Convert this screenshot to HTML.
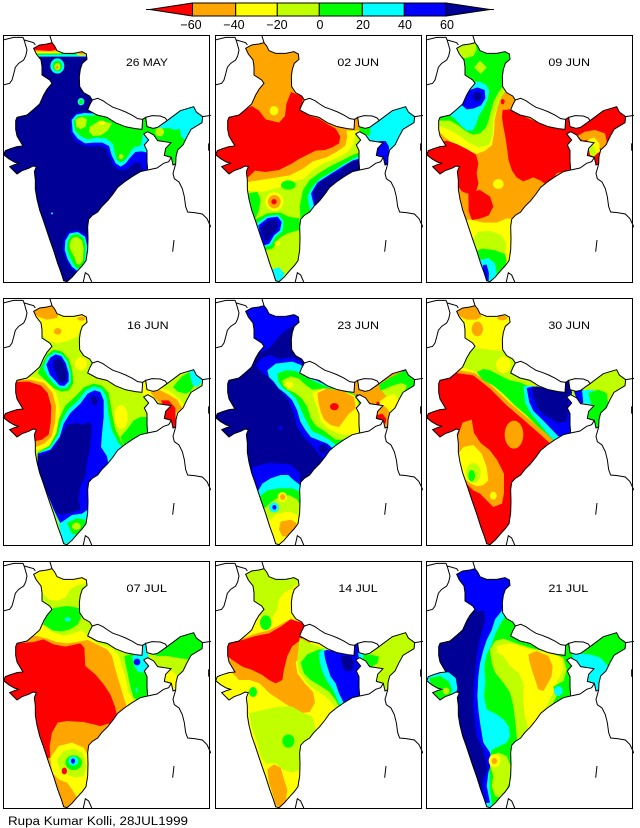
<!DOCTYPE html>
<html><head><meta charset="utf-8">
<style>
html,body{margin:0;padding:0;background:#fff;}
body{width:640px;height:828px;position:relative;overflow:hidden;font-family:"Liberation Sans",sans-serif;}
.fr{position:absolute;width:207px;height:248px;border:1px solid #000;box-sizing:border-box;}
.p{position:absolute;width:208px;height:248px;overflow:hidden;}
.r{fill:#ff0000}.o{fill:#ffa500}.y{fill:#ffff00}.yg{fill:#c0ff00}.g{fill:#00ff00}.c{fill:#00ffff}.b{fill:#0000ff}.n{fill:#000096}
text{font-family:"Liberation Sans",sans-serif;fill:#000;}
</style></head><body>
<svg width="0" height="0" style="position:absolute">
<defs>
<clipPath id="ic" clipPathUnits="userSpaceOnUse"><path d="M100,55 L118,45 L140,42 L155,38 L163,48 L170,62 L190,70 L220,70 L245,65 L258,72 L260,88 L246,100 L240,118 L237,140 L238,170 L250,188 L268,198 L276,210 L268,225 L262,240 L290,255 L320,262 L345,278 L375,290 L405,296 L425,298 L427,268 L436,262 L440,290 L458,295 L472,292 L500,272 L540,242 L580,230 L588,246 L607,260 L605,278 L572,298 L560,320 L548,345 L532,360 L527,380 L526,402 L518,405 L513,382 L492,376 L496,355 L512,338 L472,332 L460,315 L442,305 L430,312 L445,330 L432,345 L440,362 L440,395 L442,420 L420,425 L395,440 L372,456 L352,472 L338,492 L322,512 L304,530 L292,546 L276,556 L265,568 L262,590 L263,625 L262,660 L257,692 L245,708 L232,722 L215,742 L200,755 L190,752 L183,730 L172,700 L160,662 L148,628 L138,598 L128,568 L118,540 L110,508 L105,478 L105,450 L102,425 L108,410 L98,408 L85,415 L65,422 L50,432 L38,420 L28,410 L42,404 L55,400 L42,396 L25,386 L10,374 L15,362 L30,356 L50,350 L68,348 L60,335 L50,318 L46,298 L46,272 L50,262 L80,255 L100,238 L118,222 L130,195 L140,178 L155,160 L148,150 L125,135 L125,110 L122,90 L108,72 Z"/></clipPath>
<path id="ind" d="M100,55 L118,45 L140,42 L155,38 L163,48 L170,62 L190,70 L220,70 L245,65 L258,72 L260,88 L246,100 L240,118 L237,140 L238,170 L250,188 L268,198 L276,210 L268,225 L262,240 L290,255 L320,262 L345,278 L375,290 L405,296 L425,298 L427,268 L436,262 L440,290 L458,295 L472,292 L500,272 L540,242 L580,230 L588,246 L607,260 L605,278 L572,298 L560,320 L548,345 L532,360 L527,380 L526,402 L518,405 L513,382 L492,376 L496,355 L512,338 L472,332 L460,315 L442,305 L430,312 L445,330 L432,345 L440,362 L440,395 L442,420 L420,425 L395,440 L372,456 L352,472 L338,492 L322,512 L304,530 L292,546 L276,556 L265,568 L262,590 L263,625 L262,660 L257,692 L245,708 L232,722 L215,742 L200,755 L190,752 L183,730 L172,700 L160,662 L148,628 L138,598 L128,568 L118,540 L110,508 L105,478 L105,450 L102,425 L108,410 L98,408 L85,415 L65,422 L50,432 L38,420 L28,410 L42,404 L55,400 L42,396 L25,386 L10,374 L15,362 L30,356 L50,350 L68,348 L60,335 L50,318 L46,298 L46,272 L50,262 L80,255 L100,238 L118,222 L130,195 L140,178 L155,160 L148,150 L125,135 L125,110 L122,90 L108,72 Z" fill="none" stroke="#000" stroke-width="3"/>
<g id="nb" fill="none" stroke="#000" stroke-width="3">
<path d="M8,30 L40,22 L68,22 L72,32 L80,60 L76,78 L70,90 L55,100 L45,112 L40,132 L35,150 L28,160 L8,165"/>
<path d="M72,30 L100,38 L105,45"/>
<path d="M148,15 L152,28 L155,38"/>
<path d="M276,210 L292,205 L308,212 L322,222 L338,232 L356,238 L376,246 L396,256 L412,266 L427,268"/>
<path d="M436,262 L455,257 L480,258 L495,264 L500,272"/>
<path d="M607,260 L632,256"/>
<path d="M526,402 L518,430 L522,446 L536,456 L546,476 L552,500 L556,530 L562,546 L582,548 L606,552 L620,566 L632,592"/>
<path d="M442,420 L470,414 L490,400 L505,395 L513,382"/>
<path d="M625,340 L625,362"/>
<path d="M248,760 L255,728 L265,735 L276,760"/>
<path d="M521,630 L517,665"/>
</g>
</defs>
</svg>

<!-- colorbar -->
<svg style="position:absolute;left:0;top:0" width="640" height="34">
<line x1="146" y1="9.5" x2="150" y2="9.5" stroke="#000"/>
<polygon points="150,9.5 192.5,3 192.5,16" fill="#ff0000" stroke="#000"/>
<rect x="192.5" y="3" width="43.2" height="13" class="o" stroke="#000"/>
<rect x="235.7" y="3" width="41.6" height="13" class="y" stroke="#000"/>
<rect x="277.3" y="3" width="42" height="13" class="yg" stroke="#000"/>
<rect x="319.3" y="3" width="43" height="13" class="g" stroke="#000"/>
<rect x="362.3" y="3" width="42" height="13" class="c" stroke="#000"/>
<rect x="404.3" y="3" width="41.7" height="13" class="b" stroke="#000"/>
<polygon points="446,3 446,16 490,9.5" fill="#000096" stroke="#000"/>
<line x1="490" y1="9.5" x2="494" y2="9.5" stroke="#000"/>
<g font-size="12.5" text-anchor="middle">
<text x="191" y="29">−60</text><text x="234" y="29">−40</text><text x="277" y="29">−20</text><text x="320" y="29">0</text><text x="363" y="29">20</text><text x="405" y="29">40</text><text x="447" y="29">60</text>
</g>
</svg>

<!-- Panel 1 -->
<div class="fr" style="left:3px;top:35px"></div>
<svg class="p" style="left:3px;top:35px" viewBox="8 15 624 744">
<g clip-path="url(#ic)">
<rect class="n" x="0" y="0" width="640" height="780"/>
<path class="c" d="M90,25 H275 V80 H90Z"/>
<path class="g" d="M90,25 H268 V75 L200,73 L90,75Z"/>
<path class="y" d="M90,25 H182 V70 H90Z"/>
<ellipse class="y" cx="245" cy="71" rx="17" ry="6"/>
<path class="o" d="M90,25 H178 V65 H90Z"/>
<ellipse class="o" cx="245" cy="70" rx="13" ry="4"/>
<path class="r" d="M90,25 L170,25 L172,58 L150,63 L120,61 L90,58Z"/>
<ellipse class="c" cx="171" cy="108" rx="21" ry="23"/>
<ellipse class="g" cx="171" cy="108" rx="14" ry="16"/>
<ellipse class="yg" cx="171" cy="110" rx="9" ry="11"/>
<ellipse class="o" cx="170" cy="112" rx="5" ry="5"/>
<ellipse class="c" cx="242" cy="215" rx="10" ry="11"/>
<ellipse class="g" cx="242" cy="215" rx="6" ry="7"/>
<path class="b" d="M210,270 L225,250 L250,244 L275,246 L300,220 L460,220 L460,430 L432,428 L420,398 L402,398 L388,412 L370,422 L352,418 L338,404 L326,380 L318,355 L298,348 L272,350 L248,346 L226,334 L212,312Z"/>
<path class="c" d="M214,270 L228,254 L252,249 L275,250 L300,225 L460,225 L460,368 L440,368 L425,364 L405,366 L390,382 L376,400 L361,410 L346,400 L334,376 L326,348 L306,338 L280,338 L254,340 L232,326 L217,306Z"/>
<path class="g" d="M220,272 L232,260 L255,256 L280,258 L300,235 L430,235 L430,300 L425,330 L420,348 L404,350 L392,362 L378,386 L362,398 L350,390 L343,368 L338,342 L318,326 L290,323 L262,328 L240,318 L224,300Z"/>
<path class="yg" d="M225,268 L245,260 L260,268 L256,290 L240,298 L228,290Z"/>
<path class="yg" d="M268,290 L298,272 L335,280 L322,302 L302,316 L278,318 L266,305Z"/>
<ellipse class="yg" cx="362" cy="380" rx="7" ry="8"/>
<ellipse class="y" cx="305" cy="278" rx="10" ry="6"/>
<path class="c" d="M445,220 H640 V440 H445Z"/>
<path class="g" d="M420,250 L446,250 L452,288 L478,296 L505,294 L525,300 L538,296 L542,320 L560,335 L568,350 L570,440 L470,440 L462,335 L440,318 L420,300Z"/>
<ellipse class="yg" cx="478" cy="306" rx="13" ry="13"/>
<path class="b" d="M205,605 L232,600 L258,615 L266,650 L262,700 L250,722 L232,730 L212,715 L198,690 L188,660 L190,630Z"/>
<path class="c" d="M208,610 L232,606 L254,620 L261,650 L256,700 L245,718 L232,724 L215,710 L202,688 L193,660 L195,632Z"/>
<path class="g" d="M212,616 L232,612 L250,625 L256,650 L252,700 L240,714 L228,715 L218,700 L208,680 L200,658 L202,635Z"/>
<path class="yg" d="M214,625 L230,620 L245,632 L250,655 L248,690 L238,705 L228,700 L222,680 L212,665 L207,645Z"/>
<ellipse class="c" cx="155" cy="550" rx="3" ry="3"/>
</g>
<use href="#ind"/><use href="#nb"/>
<text x="377" y="108" font-size="32" textLength="126" lengthAdjust="spacingAndGlyphs">26 MAY</text>
</svg>

<!-- Panel 2 -->
<div class="fr" style="left:215px;top:35px"></div>
<svg class="p" style="left:215px;top:35px" viewBox="8 15 624 744">
<g clip-path="url(#ic)">
<rect class="yg" x="0" y="0" width="640" height="780"/>
<path class="y" d="M0,0 H640 V300 L430,305 L425,340 L410,362 L390,376 L360,390 L330,402 L300,422 L275,446 L255,452 L230,458 L200,472 L150,486 L105,482 L0,482Z"/>
<path class="o" d="M0,0 H640 V300 L402,302 L405,322 L398,348 L372,366 L342,382 L302,394 L272,416 L232,436 L170,446 L105,456 L0,456Z"/>
<path class="r" d="M0,250 L40,256 L100,238 L118,228 L140,242 L160,268 L200,278 L218,258 L222,222 L236,186 L272,200 L268,245 L292,258 L320,266 L345,282 L370,296 L384,320 L380,340 L360,352 L338,360 L310,362 L290,372 L262,386 L236,402 L200,420 L160,426 L128,422 L118,432 L102,446 L0,446Z"/>
<ellipse class="y" cx="185" cy="242" rx="13" ry="14"/>
<path class="g" d="M272,480 L292,450 L322,428 L355,408 L388,392 L414,378 L440,368 L450,430 L420,432 L380,462 L340,502 L310,542 L290,562 L265,572 L262,530Z"/>
<path class="c" d="M285,500 L300,470 L325,445 L360,425 L395,402 L425,385 L442,378 L450,430 L412,434 L380,462 L345,500 L312,540 L295,552Z"/>
<path class="b" d="M296,490 L315,458 L350,435 L390,410 L420,392 L440,386 L450,430 L420,428 L392,444 L370,460 L350,476 L335,496 L320,515 L305,528Z"/>
<path class="n" d="M304,482 L325,455 L362,432 L382,424 L405,402 L425,392 L440,392 L450,430 L420,426 L394,442 L372,458 L352,474 L338,494 L322,514 L308,522Z"/>
<path class="g" d="M110,490 L135,485 L145,510 L140,540 L130,565 L115,560 L110,530Z"/>
<ellipse class="g" cx="228" cy="465" rx="22" ry="14"/>
<path class="g" d="M125,570 L165,550 L205,548 L228,560 L262,565 L262,600 L225,610 L200,625 L182,655 L155,662 L135,632Z"/>
<path class="c" d="M132,580 L165,558 L198,554 L214,575 L210,605 L190,620 L176,646 L156,651 L141,628Z"/>
<path class="b" d="M138,586 L166,564 L196,560 L208,576 L203,601 L185,616 L171,641 L156,646 L146,624Z"/>
<path class="n" d="M146,592 L168,572 L190,568 L199,582 L194,600 L178,614 L166,634 L156,631 L150,612Z"/>
<ellipse class="y" cx="186" cy="515" rx="27" ry="28"/>
<ellipse class="o" cx="186" cy="515" rx="19" ry="20"/>
<ellipse class="r" cx="185" cy="515" rx="8" ry="8"/>
<ellipse class="y" cx="195" cy="640" rx="8" ry="8"/>
<path class="c" d="M178,718 L200,712 L216,730 L210,760 L185,760Z"/>
<path class="c" d="M446,230 H640 V440 H446Z"/>
<path class="g" d="M440,285 L475,296 L472,318 L442,308Z"/>
<path class="b" d="M500,333 L520,333 L530,350 L528,408 L515,408 L510,382 L488,376 L494,352Z"/>
</g>
<use href="#ind"/><use href="#nb"/>
<text x="375" y="108" font-size="32" textLength="125" lengthAdjust="spacingAndGlyphs">02 JUN</text>
</svg>

<!-- Panel 3 -->
<div class="fr" style="left:426px;top:35px"></div>
<svg class="p" style="left:426px;top:35px" viewBox="8 15 624 744">
<g clip-path="url(#ic)">
<rect class="o" x="0" y="0" width="640" height="780"/>
<path class="y" d="M0,0 H275 L245,182 L232,205 L222,235 L214,270 L212,310 L206,345 L186,362 L160,372 L128,360 L98,345 L68,325 L44,302 L0,295Z"/>
<path class="yg" d="M0,0 H270 L250,180 L235,200 L222,232 L210,268 L208,318 L196,345 L166,352 L136,338 L110,318 L82,302 L48,288 L0,280Z"/>
<path class="g" d="M0,0 H265 L258,95 L240,110 L238,170 L225,188 L212,212 L203,242 L196,270 L188,292 L170,310 L148,314 L128,304 L108,288 L80,272 L48,272 L0,260Z"/>
<path class="yg" d="M90,30 L155,30 L160,60 L150,78 L125,85 L105,75Z"/>
<path class="yg" d="M170,92 L190,112 L172,132 L152,112Z"/>
<path class="c" d="M118,178 L138,160 L165,154 L188,164 L198,182 L192,212 L180,236 L166,258 L158,284 L148,302 L130,302 L112,286 L94,266 L80,256 L96,242 L110,230 L114,205Z"/>
<path class="b" d="M118,205 L135,182 L162,172 L184,180 L186,205 L173,226 L150,236 L130,238 L116,226Z"/>
<ellipse class="n" cx="162" cy="200" rx="13" ry="14"/>
<path class="r" d="M0,335 L40,340 L70,332 L100,342 L132,358 L158,374 L165,400 L160,430 L165,460 L160,480 L150,492 L130,490 L116,484 L104,470 L100,440 L84,430 L40,432 L0,400Z"/>
<path class="r" d="M135,488 L170,480 L200,500 L210,530 L196,556 L170,566 L146,570 L136,545Z"/>
<path class="r" d="M238,240 L262,238 L292,255 L345,278 L400,296 L440,300 L448,420 L430,422 L400,430 L388,448 L374,468 L352,452 L330,442 L300,454 L280,442 L266,422 L256,392 L252,360 L246,320 L240,290 L236,262Z"/>
<ellipse class="r" cx="238" cy="215" rx="6" ry="8"/>
<ellipse class="y" cx="225" cy="462" rx="16" ry="15"/>
<path class="y" d="M100,575 L140,568 L180,578 L220,578 L250,565 L275,568 L275,800 L100,800Z"/>
<path class="yg" d="M140,640 L165,605 L200,603 L235,615 L248,640 L245,680 L240,700 L150,700Z"/>
<path class="g" d="M150,668 L176,656 L212,660 L245,672 L250,692 L240,722 L222,752 L195,752Z"/>
<path class="c" d="M170,690 L195,684 L215,700 L220,730 L210,758 L185,758Z"/>
<path class="b" d="M178,705 L190,704 L197,730 L196,752 L184,750Z"/>
<path class="r" d="M445,225 H640 V440 H445Z"/>
<path class="r" d="M420,255 L446,255 L446,305 L420,305Z"/>
<path class="o" d="M462,318 L485,305 L515,300 L545,310 L552,345 L535,360 L520,340 L500,328 L478,332Z"/>
<path class="y" d="M492,330 L512,322 L528,340 L530,365 L518,372 L500,360Z"/>
<path class="yg" d="M495,350 L510,345 L520,372 L512,380 L500,375Z"/>
</g>
<use href="#ind"/><use href="#nb"/>
<text x="375" y="108" font-size="32" textLength="125" lengthAdjust="spacingAndGlyphs">09 JUN</text>
</svg>

<!-- Panel 4 -->
<div class="fr" style="left:3px;top:298px"></div>
<svg class="p" style="left:3px;top:298px" viewBox="8 15 624 744">
<g clip-path="url(#ic)">
<rect class="yg" x="0" y="0" width="640" height="780"/>
<path class="y" d="M95,40 L170,38 L182,60 L262,70 L262,92 L242,102 L232,130 L205,142 L172,152 L142,142 L122,122 L105,80Z"/>
<path class="o" d="M90,50 L120,38 L160,36 L175,58 L170,75 L140,80 L115,72Z"/>
<ellipse class="o" cx="172" cy="115" rx="11" ry="10"/>
<ellipse class="o" cx="243" cy="77" rx="12" ry="6"/>
<ellipse class="y" cx="242" cy="212" rx="18" ry="20"/>
<path class="y" d="M0,255 L95,252 L142,264 L168,300 L178,340 L178,390 L168,432 L142,462 L110,472 L88,462 L0,450Z"/>
<path class="o" d="M0,262 L90,260 L132,270 L157,300 L167,340 L164,390 L154,430 L132,452 L106,462 L82,452 L0,445Z"/>
<path class="r" d="M0,268 L85,266 L122,278 L142,300 L153,340 L151,390 L145,425 L125,440 L100,446 L80,430 L40,432 L0,400Z"/>
<path class="g" d="M112,240 L125,213 L140,185 L160,170 L186,176 L206,200 L216,235 L219,270 L206,292 L184,296 L160,286 L138,265Z"/>
<path class="c" d="M128,225 L140,193 L160,178 L183,182 L201,204 L211,240 L211,268 L198,286 L178,286 L158,270 L143,250Z"/>
<path class="b" d="M138,215 L150,193 L166,184 L183,189 L196,210 L205,240 L205,265 L192,279 L177,277 L164,262 L148,245Z"/>
<path class="n" d="M160,200 L178,195 L190,210 L200,240 L199,262 L187,270 L174,262 L167,240 L160,222Z"/>
<path class="g" d="M112,478 L148,458 L168,420 L176,378 L195,338 L225,310 L252,282 L280,272 L305,278 L325,300 L335,360 L345,410 L365,450 L385,470 L360,495 L112,520Z"/>
<path class="c" d="M115,480 L150,462 L173,425 L183,385 L203,350 L233,322 L256,292 L280,280 L303,286 L318,310 L324,360 L334,410 L354,450 L374,470 L358,490 L340,508 L320,528 L300,545 L280,555 L268,565 L262,600 L262,660 L250,700 L235,720 L215,730 L190,740 L180,700 L160,650 L140,600 L125,560 L115,520Z"/>
<path class="b" d="M112,482 L150,470 L178,432 L190,392 L210,360 L240,332 L262,302 L282,292 L300,297 L310,322 L310,372 L305,422 L302,462 L320,490 L325,520 L300,545 L280,555 L268,565 L262,600 L262,650 L245,662 L215,666 L195,680 L180,690 L160,650 L140,600 L125,560 L112,520Z"/>
<path class="n" d="M112,490 L140,480 L165,462 L185,422 L200,396 L225,390 L250,395 L265,386 L275,400 L270,460 L260,510 L255,550 L240,580 L235,620 L240,650 L210,660 L185,665 L170,660 L155,630 L140,600 L125,560 L112,520Z"/>
<ellipse class="n" cx="282" cy="322" rx="10" ry="14"/>
<ellipse class="y" cx="362" cy="372" rx="20" ry="36"/>
<path class="g" d="M360,432 L380,410 L400,382 L420,372 L445,372 L448,425 L430,436 L410,442 L395,462 L378,470Z"/>
<path class="c" d="M175,692 L200,680 L215,672 L230,668 L255,668 L262,700 L240,735 L215,750 L188,752Z"/>
<path class="g" d="M200,690 L228,676 L255,680 L255,712 L235,728 L214,722Z"/>
<ellipse class="yg" cx="228" cy="700" rx="13" ry="11"/>
<path class="y" d="M422,258 L440,258 L448,292 L480,283 L510,295 L540,320 L556,345 L540,362 L520,356 L495,342 L470,322 L448,306 L428,306Z"/>
<path class="o" d="M450,298 L480,292 L505,305 L530,320 L545,345 L530,358 L510,350 L490,340 L465,316Z"/>
<path class="r" d="M482,322 L505,322 L525,345 L527,410 L515,410 L508,385 L492,375 L495,355Z"/>
<path class="g" d="M518,282 L545,250 L580,230 L592,246 L586,270 L570,296 L555,302 L532,296Z"/>
<path class="c" d="M566,236 L586,228 L610,260 L592,282 L576,276Z"/>
</g>
<use href="#ind"/><use href="#nb"/>
<text x="380" y="108" font-size="32" textLength="125" lengthAdjust="spacingAndGlyphs">16 JUN</text>
</svg>

<!-- Panel 5 -->
<div class="fr" style="left:215px;top:298px"></div>
<svg class="p" style="left:215px;top:298px" viewBox="8 15 624 744">
<g clip-path="url(#ic)">
<rect class="n" x="0" y="0" width="640" height="780"/>
<path class="b" d="M90,30 L275,30 L262,85 L238,100 L212,118 L192,140 L176,160 L160,172 L140,180 L125,150 L110,90Z"/>
<path class="b" d="M130,218 L148,196 L174,186 L200,198 L236,192 L262,202 L300,248 L345,272 L400,288 L428,298 L445,330 L445,425 L420,432 L400,462 L380,482 L360,497 L338,500 L318,482 L298,456 L274,432 L254,402 L244,362 L228,322 L208,297 L188,277 L168,252 L148,236Z"/>
<path class="c" d="M165,232 L190,212 L240,206 L266,216 L300,256 L345,278 L400,292 L428,300 L445,330 L445,420 L420,430 L400,452 L385,470 L365,470 L345,452 L320,442 L295,432 L279,411 L264,386 L254,351 L239,321 L219,301 L199,286 L184,266 L170,252Z"/>
<path class="g" d="M195,242 L220,232 L250,234 L275,250 L300,262 L345,282 L400,295 L428,302 L445,332 L445,420 L420,430 L400,445 L385,455 L370,455 L350,440 L325,425 L300,415 L288,395 L275,370 L262,340 L250,315 L232,298 L212,285 L198,265Z"/>
<path class="yg" d="M210,262 L235,250 L260,257 L280,276 L300,290 L345,286 L400,298 L425,306 L442,336 L442,420 L420,430 L395,440 L370,440 L350,425 L330,410 L310,398 L295,375 L285,342 L270,318 L248,300 L225,290 L212,276Z"/>
<path class="y" d="M300,300 L330,286 L370,290 L410,300 L432,312 L442,342 L436,422 L400,426 L374,420 L345,405 L325,386 L315,346 L305,320Z"/>
<path class="o" d="M315,300 L345,286 L395,296 L425,312 L430,346 L410,362 L395,382 L380,402 L355,396 L335,380 L325,356 L318,326Z"/>
<ellipse class="r" cx="366" cy="341" rx="13" ry="11"/>
<ellipse class="y" cx="232" cy="275" rx="11" ry="10"/>
<ellipse class="b" cx="205" cy="405" rx="6" ry="6"/>
<ellipse class="n" cx="332" cy="468" rx="13" ry="13"/>
<path class="o" d="M446,235 H640 V440 H446Z"/>
<path class="o" d="M420,255 L446,255 L446,305 L420,305Z"/>
<path class="g" d="M500,276 L530,256 L560,240 L582,232 L592,246 L608,260 L602,286 L586,296 L560,286 L530,296 L505,292Z"/>
<path class="yg" d="M508,292 L540,278 L568,270 L584,278 L574,302 L560,326 L540,322 L520,308Z"/>
<path class="y" d="M495,330 L520,312 L545,302 L562,322 L552,350 L536,362 L520,342Z"/>
<ellipse class="r" cx="497" cy="331" rx="5" ry="5"/>
<path class="r" d="M488,368 L510,362 L522,378 L520,392 L505,386 L490,378Z"/>
<path class="b" d="M120,522 L170,510 L235,514 L262,540 L268,800 L120,800Z"/>
<path class="c" d="M135,598 L150,572 L175,556 L205,546 L228,546 L242,560 L258,572 L268,582 L268,800 L135,800Z"/>
<path class="g" d="M140,612 L165,592 L200,586 L240,586 L262,596 L268,800 L140,800Z"/>
<path class="yg" d="M150,652 L175,628 L200,612 L230,606 L255,620 L264,640 L264,800 L150,800Z"/>
<path class="y" d="M168,682 L195,662 L230,656 L256,666 L260,700 L242,732 L220,752 L195,757 L175,722Z"/>
<path class="o" d="M205,686 L235,680 L252,690 L250,716 L235,730 L210,730 L200,710Z"/>
<ellipse class="y" cx="210" cy="612" rx="14" ry="15"/>
<ellipse class="o" cx="211" cy="612" rx="8" ry="9"/>
<ellipse class="c" cx="185" cy="643" rx="15" ry="15"/>
<ellipse class="b" cx="186" cy="643" rx="6" ry="7"/>
</g>
<use href="#ind"/><use href="#nb"/>
<text x="375" y="108" font-size="32" textLength="125" lengthAdjust="spacingAndGlyphs">23 JUN</text>
</svg>

<!-- Panel 6 -->
<div class="fr" style="left:426px;top:298px"></div>
<svg class="p" style="left:426px;top:298px" viewBox="8 15 624 744">
<g clip-path="url(#ic)">
<rect class="r" x="0" y="0" width="640" height="780"/>
<path class="o" d="M0,0 H640 V445 L445,430 L395,465 L355,428 L300,380 L250,337 L200,287 L150,247 L100,240 L0,232Z"/>
<path class="y" d="M0,0 H640 V440 L445,425 L405,452 L360,415 L305,368 L255,325 L205,278 L155,240 L110,232 L0,225Z"/>
<path class="yg" d="M0,0 H640 V440 L445,422 L410,440 L365,405 L315,360 L265,318 L215,275 L165,240 L125,225 L0,215Z"/>
<path class="g" d="M160,238 L180,228 L200,232 L230,248 L260,262 L290,268 L320,282 L400,293 L445,298 L445,430 L400,452 L375,428 L340,398 L310,368 L275,338 L240,303 L210,278 L180,262Z"/>
<path class="c" d="M300,280 L320,278 L400,294 L445,298 L445,425 L395,445 L370,418 L345,388 L320,358 L305,328Z"/>
<path class="b" d="M310,285 L330,280 L400,294 L445,298 L445,425 L405,430 L380,404 L355,378 L330,354 L318,328Z"/>
<path class="n" d="M325,285 L340,280 L400,294 L430,300 L435,330 L430,385 L405,390 L380,375 L355,360 L340,340 L330,310Z"/>
<path class="y" d="M90,30 L275,30 L265,90 L245,100 L240,140 L244,175 L220,172 L180,168 L150,165 L130,150 L120,100Z"/>
<path class="o" d="M90,50 L120,38 L155,36 L165,55 L175,70 L160,80 L130,80 L110,70Z"/>
<ellipse class="o" cx="162" cy="108" rx="17" ry="22"/>
<ellipse class="o" cx="237" cy="75" rx="15" ry="7"/>
<ellipse class="y" cx="240" cy="215" rx="22" ry="24"/>
<path class="o" d="M100,440 L118,388 L145,380 L152,420 L172,450 L200,472 L222,502 L242,542 L242,600 L236,632 L210,642 L190,622 L170,602 L150,592 L130,572 L115,542 L105,492Z"/>
<ellipse class="o" cx="272" cy="425" rx="28" ry="42"/>
<path class="y" d="M105,482 L120,462 L150,456 L175,482 L190,522 L195,562 L180,576 L160,580 L140,570 L120,555 L110,525Z"/>
<ellipse class="y" cx="210" cy="608" rx="10" ry="12"/>
<ellipse class="yg" cx="150" cy="540" rx="22" ry="30"/>
<ellipse class="g" cx="145" cy="548" rx="10" ry="17"/>
<path class="yg" d="M446,230 H640 V440 H446Z"/>
<path class="n" d="M420,258 L442,258 L446,302 L420,306Z"/>
<path class="b" d="M452,296 L480,290 L486,326 L466,336Z"/>
<path class="c" d="M476,292 L510,290 L515,320 L500,336 L480,330Z"/>
<path class="g" d="M495,300 L525,290 L550,300 L556,340 L540,362 L530,382 L527,412 L515,408 L510,382 L490,376 L494,356 L505,340Z"/>
</g>
<use href="#ind"/><use href="#nb"/>
<text x="375" y="108" font-size="32" textLength="125" lengthAdjust="spacingAndGlyphs">30 JUN</text>
</svg>

<!-- Panel 7 -->
<div class="fr" style="left:3px;top:561px"></div>
<svg class="p" style="left:3px;top:561px" viewBox="8 15 624 744">
<g clip-path="url(#ic)">
<rect class="o" x="0" y="0" width="640" height="780"/>
<path class="y" d="M0,0 H640 V440 L445,430 L396,464 L380,455 L372,430 L360,390 L345,340 L335,300 L320,280 L290,265 L262,252 L230,258 L200,262 L170,258 L140,248 L110,240 L60,240 L0,240Z"/>
<path class="yg" d="M0,180 L130,200 L150,225 L190,240 L220,232 L245,222 L262,240 L295,265 L335,276 L355,298 L368,338 L378,378 L385,410 L398,432 L422,438 L445,430 L445,0 L0,0Z"/>
<path class="y" d="M90,30 L275,30 L262,80 L230,88 L210,100 L195,125 L170,135 L145,130 L125,110 L110,80Z"/>
<path class="g" d="M128,205 L140,178 L160,156 L200,150 L236,156 L242,185 L232,206 L210,220 L185,226 L158,224Z"/>
<ellipse class="c" cx="202" cy="190" rx="9" ry="6"/>
<path class="r" d="M0,250 L50,262 L100,258 L130,250 L160,265 L195,272 L240,262 L252,275 L255,330 L285,355 L310,385 L330,415 L345,455 L350,480 L335,500 L300,510 L250,498 L200,495 L172,500 L155,530 L148,570 L150,605 L100,620 L0,620Z"/>
<path class="g" d="M372,300 L390,295 L420,300 L445,300 L445,430 L420,436 L400,426 L392,400 L384,362 L376,326Z"/>
<path class="c" d="M395,300 L420,290 L445,298 L445,345 L425,350 L410,345 L400,325Z"/>
<ellipse class="b" cx="410" cy="318" rx="10" ry="10"/>
<ellipse class="c" cx="408" cy="402" rx="3" ry="8"/>
<path class="c" d="M422,262 L442,262 L442,300 L426,300Z"/>
<path class="y" d="M150,605 L175,570 L215,560 L250,575 L264,600 L264,680 L246,720 L230,725 L215,700 L200,680 L175,670 L155,650Z"/>
<path class="yg" d="M170,610 L190,585 L220,578 L248,592 L258,630 L250,660 L225,665 L200,655 L178,640Z"/>
<ellipse class="g" cx="220" cy="620" rx="25" ry="22"/>
<ellipse class="c" cx="219" cy="615" rx="15" ry="14"/>
<ellipse class="b" cx="218" cy="615" rx="6" ry="8"/>
<ellipse class="r" cx="192" cy="645" rx="8" ry="10"/>
<path class="yg" d="M446,230 H640 V440 H446Z"/>
<path class="g" d="M446,230 H640 V300 L562,310 L500,300 L470,300 L446,290Z"/>
<path class="y" d="M494,350 L515,345 L532,360 L528,412 L515,412 L510,385 L492,376Z"/>
</g>
<use href="#ind"/><use href="#nb"/>
<text x="378" y="108" font-size="32" textLength="122" lengthAdjust="spacingAndGlyphs">07 JUL</text>
</svg>

<!-- Panel 8 -->
<div class="fr" style="left:215px;top:561px"></div>
<svg class="p" style="left:215px;top:561px" viewBox="8 15 624 744">
<g clip-path="url(#ic)">
<rect class="y" x="0" y="0" width="640" height="780"/>
<path class="yg" d="M90,30 L275,30 L258,80 L235,100 L215,110 L200,130 L195,160 L180,185 L140,180 L120,150 L112,100Z"/>
<ellipse class="g" cx="160" cy="200" rx="17" ry="22"/>
<path class="o" d="M0,262 L50,258 L90,248 L130,233 L168,223 L200,208 L235,188 L275,200 L300,250 L290,268 L268,288 L250,320 L255,352 L280,385 L302,408 L308,440 L292,468 L262,472 L232,452 L202,432 L172,412 L142,382 L112,372 L80,372 L50,340 L0,330Z"/>
<path class="r" d="M45,265 L90,252 L130,240 L170,232 L205,212 L235,190 L275,202 L268,250 L240,270 L225,300 L215,340 L210,372 L190,382 L170,372 L150,357 L120,342 L90,332 L60,312 L45,300Z"/>
<path class="yg" d="M262,245 L292,262 L320,272 L345,280 L400,292 L432,300 L445,320 L445,432 L400,472 L380,472 L360,442 L340,422 L310,402 L285,382 L260,347 L255,312Z"/>
<path class="g" d="M265,320 L285,295 L320,280 L345,282 L400,292 L432,300 L445,320 L445,432 L400,466 L385,462 L370,432 L350,407 L320,387 L295,372 L275,352Z"/>
<path class="c" d="M320,290 L330,280 L400,292 L432,300 L445,320 L445,432 L410,452 L390,462 L375,432 L362,402 L345,377 L330,347 L322,317Z"/>
<path class="b" d="M335,285 L345,282 L400,292 L432,300 L445,320 L445,432 L410,442 L395,442 L380,412 L370,382 L355,362 L345,332 L338,307Z"/>
<path class="n" d="M385,300 L415,300 L425,320 L420,345 L400,345 L390,330Z"/>
<path class="b" d="M422,262 L442,262 L442,305 L426,305Z"/>
<path class="yg" d="M110,472 L150,462 L200,452 L240,452 L270,470 L300,482 L310,520 L300,550 L280,562 L264,580 L264,640 L240,650 L210,640 L190,622 L160,622 L145,600 L135,560 L120,520Z"/>
<ellipse class="g" cx="122" cy="408" rx="12" ry="15"/>
<ellipse class="g" cx="228" cy="555" rx="18" ry="20"/>
<path class="o" d="M165,640 L185,625 L205,635 L215,670 L225,700 L220,740 L205,756 L190,746 L180,710 L170,680Z"/>
<path class="yg" d="M446,230 H640 V440 H446Z"/>
<path class="g" d="M446,296 L476,296 L500,302 L495,322 L470,336 L455,320Z"/>
<path class="c" d="M437,290 L452,290 L454,306 L440,306Z"/>
</g>
<use href="#ind"/><use href="#nb"/>
<text x="378" y="108" font-size="32" textLength="118" lengthAdjust="spacingAndGlyphs">14 JUL</text>
</svg>

<!-- Panel 9 -->
<div class="fr" style="left:426px;top:561px"></div>
<svg class="p" style="left:426px;top:561px" viewBox="8 15 624 744">
<g clip-path="url(#ic)">
<rect class="g" x="0" y="0" width="640" height="780"/>
<path class="c" d="M0,0 H275 L270,170 L245,182 L230,205 L215,235 L205,265 L190,295 L183,330 L186,380 L182,420 L190,460 L220,475 L242,492 L256,512 L260,540 L250,560 L225,572 L205,582 L200,605 L198,640 L200,700 L208,760 L0,760Z"/>
<path class="b" d="M0,0 H275 V88 L245,100 L240,130 L235,165 L215,190 L205,222 L190,252 L180,282 L170,322 L165,362 L162,420 L165,460 L170,500 L180,560 L200,590 L205,620 L195,650 L190,690 L200,740 L0,760Z"/>
<path class="n" d="M0,165 L182,165 L186,192 L176,226 L166,262 L160,302 L155,352 L150,402 L150,452 L155,502 L160,542 L180,582 L192,640 L180,670 L176,700 L190,760 L0,760Z"/>
<ellipse class="c" cx="192" cy="525" rx="12" ry="15"/>
<path class="c" d="M0,348 L42,343 L77,350 L97,366 L102,396 L96,422 L80,442 L60,447 L40,432 L25,412 L0,402Z"/>
<path class="g" d="M18,366 L50,360 L76,376 L86,400 L80,426 L64,440 L45,430 L30,410 L24,386Z"/>
<ellipse class="yg" cx="68" cy="405" rx="10" ry="10"/>
<path class="yg" d="M200,280 L215,255 L240,248 L280,262 L320,275 L380,290 L420,305 L430,340 L420,380 L400,420 L380,460 L340,500 L310,540 L300,560 L282,560 L276,500 L270,450 L260,410 L240,380 L215,350 L205,320Z"/>
<path class="y" d="M220,270 L260,262 L290,270 L330,282 L380,292 L415,305 L420,340 L400,380 L390,410 L370,450 L345,480 L330,510 L315,520 L305,480 L300,440 L300,380 L285,350 L260,330 L240,300 L222,290Z"/>
<path class="o" d="M315,295 L340,285 L375,300 L388,330 L385,360 L375,380 L360,405 L345,400 L335,370 L325,340 L318,315Z"/>
<path class="g" d="M390,392 L420,375 L442,380 L442,422 L420,427 L395,415Z"/>
<ellipse class="c" cx="405" cy="405" rx="13" ry="15"/>
<path class="yg" d="M200,600 L225,590 L250,600 L262,630 L258,680 L245,710 L230,725 L215,720 L205,690 L210,660 L200,630Z"/>
<ellipse class="y" cx="214" cy="614" rx="18" ry="20"/>
<ellipse class="o" cx="213" cy="615" rx="8" ry="9"/>
<path class="c" d="M446,290 L500,295 L530,305 L550,325 L555,345 L535,362 L527,382 L525,410 L515,410 L510,382 L492,376 L495,355 L470,335 L450,320Z"/>
</g>
<use href="#ind"/><use href="#nb"/>
<text x="375" y="108" font-size="32" textLength="120" lengthAdjust="spacingAndGlyphs">21 JUL</text>
</svg>

<svg style="position:absolute;left:0;top:812px" width="640" height="16">
<text x="8" y="13" font-size="11.5" textLength="180" lengthAdjust="spacingAndGlyphs">Rupa Kumar Kolli, 28JUL1999</text>
</svg>
</body></html>
